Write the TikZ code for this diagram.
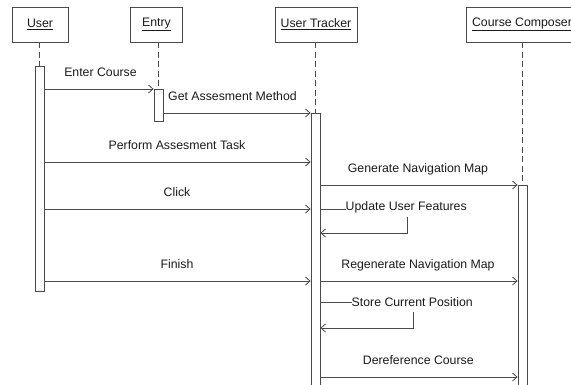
\documentclass[tikz,border=0pt]{standalone}
\usepackage{fontspec}
\setmainfont{Liberation Sans}
\usetikzlibrary{arrows.meta}
\definecolor{ln}{HTML}{4A4A4A}
\definecolor{tx}{HTML}{1A1A1A}
\begin{document}
\begin{tikzpicture}[x=1pt,y=-1pt,
  hdr/.style={draw=ln, line width=0.8pt, minimum height=35pt, inner sep=0pt, text=tx, font=\fontsize{12.3}{14}\selectfont},
  bar/.style={draw=ln, fill=white, line width=0.8pt, minimum width=9pt, inner sep=0pt, anchor=north},
  life/.style={draw=ln, line width=0.7pt, dash pattern=on 6pt off 3.5pt},
  seg/.style={draw=ln, line width=0.8pt},
  msg/.style={draw=ln, line width=0.8pt, -{Straight Barb[length=4.5pt,width=8pt]}},
  lbl/.style={font=\fontsize{12.3}{14}\selectfont, inner sep=0pt, text=tx}]
\clip (0,0) rectangle (571,384);
\useasboundingbox (0,0) rectangle (571,384);
% headers
\node[hdr, minimum width=56pt] (user) at (40,24.5) {\underline{User}};
\node[hdr, minimum width=52pt] (entry) at (156.5,24.5) {\underline{Entry}};
\node[hdr, minimum width=82pt] (ut) at (316,24.5) {\underline{User Tracker}};
\node[hdr, minimum width=112pt] (cc) at (522,24.5) {\underline{Course Composer}};
% activation bars
\node[bar, minimum height=225pt] (ubar) at (39.5,66) {};
\node[bar, minimum height=32pt] (ebar) at (158.5,89) {};
\node[bar, minimum height=290pt] (utbar) at (315.5,113) {};
\node[bar, minimum height=220pt] (ccbar) at (522.5,185) {};
% lifelines
\draw[life] (ubar.north |- user.south) -- (ubar.north);
\draw[life] (ebar.north |- entry.south) -- (ebar.north);
\draw[life] (utbar.north |- ut.south) -- (utbar.north);
\draw[life] (ccbar.north |- cc.south) -- (ccbar.north);
% message rows
\coordinate (r1) at (0,89);
\coordinate (r2) at (0,113);
\coordinate (r3) at (0,162);
\coordinate (r4) at (0,185);
\coordinate (r5) at (0,209);
\coordinate (r5b) at (0,233);
\coordinate (r6) at (0,281);
\coordinate (r7) at (0,302);
\coordinate (r7b) at (0,328);
\coordinate (r8) at (0,377);
% messages
\draw[msg] (ubar.east |- r1) -- (ebar.west |- r1);
\node[lbl, anchor=base] (l1) at (100.5,76.5) {Enter Course};
\draw[msg] (ebar.east |- r2) -- (utbar.west |- r2);
\node[lbl, anchor=base west] (l2) at (168,100) {Get Assesment Method};
\draw[msg] (ubar.east |- r3) -- (utbar.west |- r3);
\node[lbl, anchor=base] (l3) at (177,149) {Perform Assesment Task};
\draw[msg] (ubar.east |- r5) -- (utbar.west |- r5);
\node[lbl, anchor=base] (l4) at (177,196.5) {Click};
\draw[msg] (ubar.east |- r6) -- (utbar.west |- r6);
\node[lbl, anchor=base] (l5) at (177,268) {Finish};
\draw[msg] (utbar.east |- r4) -- (ccbar.west |- r4);
\node[lbl, anchor=base] (l6) at (418,172.5) {Generate Navigation Map};
\draw[msg] (utbar.east |- r6) -- (ccbar.west |- r6);
\node[lbl, anchor=base] (l7) at (418,268) {Regenerate Navigation Map};
\draw[msg] (utbar.east |- r8) -- (ccbar.west |- r8);
\node[lbl, anchor=base] (l8) at (418.3,364) {Dereference Course};
% self messages
\node[lbl, anchor=base west] (s1) at (345.5,210.5) {Update User Features};
\coordinate (s1a) at (407,217);
\coordinate (s1b) at (407,233);
\draw[seg] (utbar.east |- r5) -- (s1.west |- r5);
\draw[msg] (s1a) -- (s1b) -- (utbar.east |- r5b);
\node[lbl, anchor=base west] (s2) at (351.5,306.5) {Store Current Position};
\coordinate (s2a) at (413,312);
\coordinate (s2b) at (413,328);
\draw[seg] (utbar.east |- r7) -- (s2.west |- r7);
\draw[msg] (s2a) -- (s2b) -- (utbar.east |- r7b);
\end{tikzpicture}
\end{document}
